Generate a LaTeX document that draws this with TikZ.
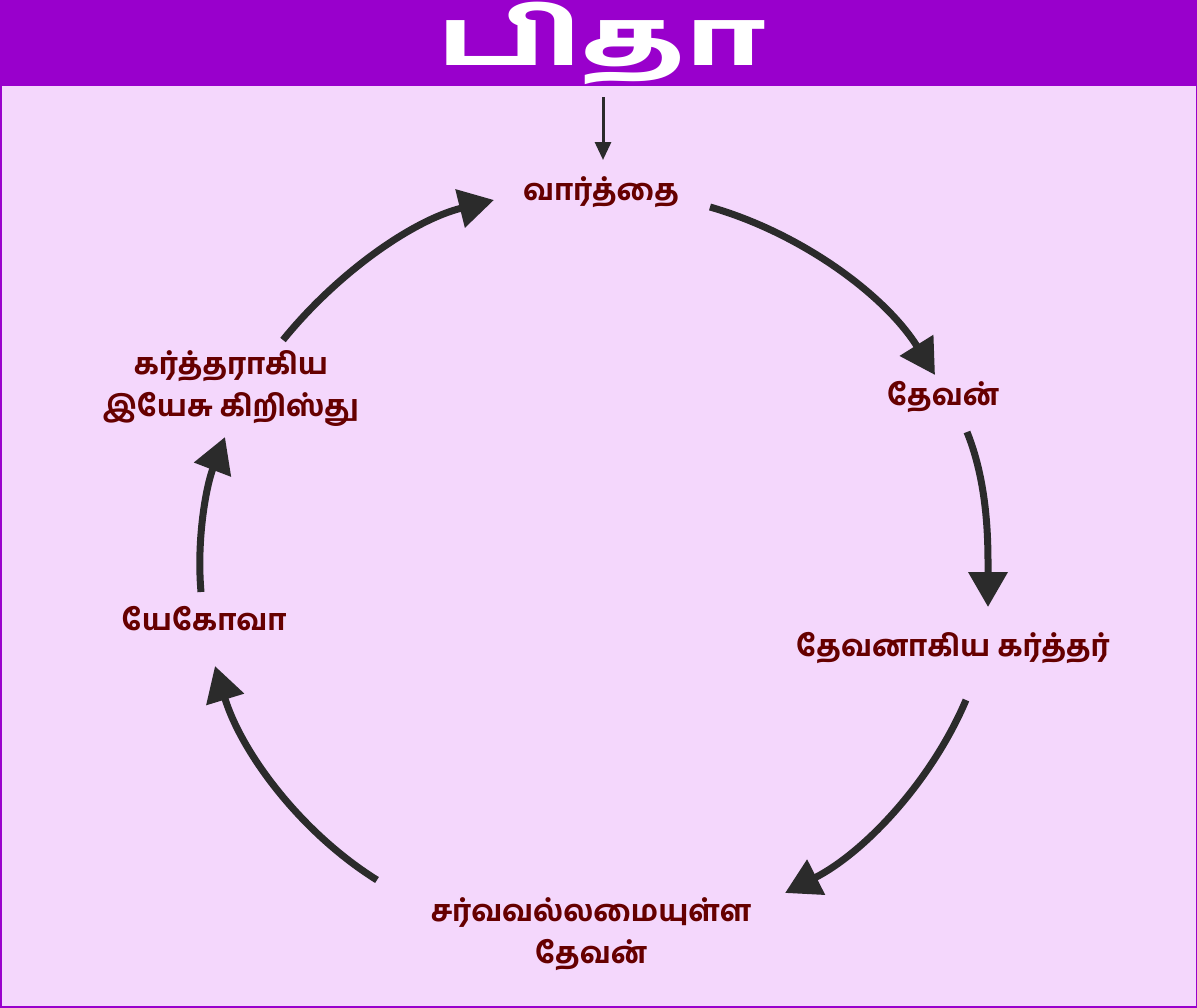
\documentclass[tikz,border=0pt]{standalone}
\usepackage{fontspec}
\newfontfamily\tamilfont[Script=Tamil,BoldFont={Hind Madurai Bold}]{Hind Madurai}
\usetikzlibrary{arrows.meta}
\definecolor{barpurple}{HTML}{9900CC}
\definecolor{bodypink}{HTML}{F4D7FC}
\definecolor{txtred}{HTML}{660000}
\definecolor{arrgray}{HTML}{2B2B2B}
\begin{document}
\begin{tikzpicture}[x=1pt,y=1pt]
    \tikzstyle{lbl} = [font=\tamilfont\bfseries\fontsize{29.5}{42}\selectfont,text=txtred,align=center] %label
    \tikzstyle{arr} = [draw=arrgray,line width=7pt,looseness=0.86,-{Triangle[length=35pt,width=38pt]}] %cycle arrow
    \useasboundingbox (0,0) rectangle (1197,-1007);
    \fill[bodypink] (0,0) rectangle (1197,-1007);
    \fill[barpurple] (0,0) rectangle (1197,-86);
    \draw[barpurple,line width=3pt] (0,0) rectangle (1197,-1007);
    \node[font=\tamilfont\bfseries\fontsize{78}{90}\selectfont,text=white,xscale=1.6](ttl)at(602,-43){பிதா};
    \node[lbl](vw)at(601,-192){வார்த்தை};
    \node[lbl](vd)at(943,-397){தேவன்};
    \node[lbl](vdk)at(953,-648){தேவனாகிய கர்த்தர்};
    \node[lbl](vs)at(591,-934){சர்வவல்லமையுள்ள\\தேவன்};
    \node[lbl](vy)at(204,-619){யேகோவா};
    \node[lbl](vk)at(231,-389){கர்த்தராகிய\\இயேசு கிறிஸ்து};
    \coordinate(top)at(603,-97);
    \draw[draw=arrgray,line width=3pt,-{Triangle[length=18pt,width=16pt]}](top)--([shift={(2,32)}]vw.center);
    \draw[arr]([shift={(109,-15)}]vw.center)to[out=-16,in=122]([shift={(-8,22)}]vd.center);
    \draw[arr]([shift={(24,-35)}]vd.center)to[out=-68,in=90]([shift={(35,41)}]vdk.center);
    \draw[arr]([shift={(13,-52)}]vdk.center)to[out=-113,in=27]([shift={(194,41)}]vs.center);
    \draw[arr]([shift={(-214,54)}]vs.center)to[out=148,in=-73]([shift={(11,-47)}]vy.center);
    \draw[arr]([shift={(-3,27)}]vy.center)to[out=95,in=-111]([shift={(-6,-48)}]vk.center);
    \draw[arr]([shift={(52,49)}]vk.center)to[out=51,in=194]([shift={(-107,-8)}]vw.center);
  \end{tikzpicture}
\end{document}
